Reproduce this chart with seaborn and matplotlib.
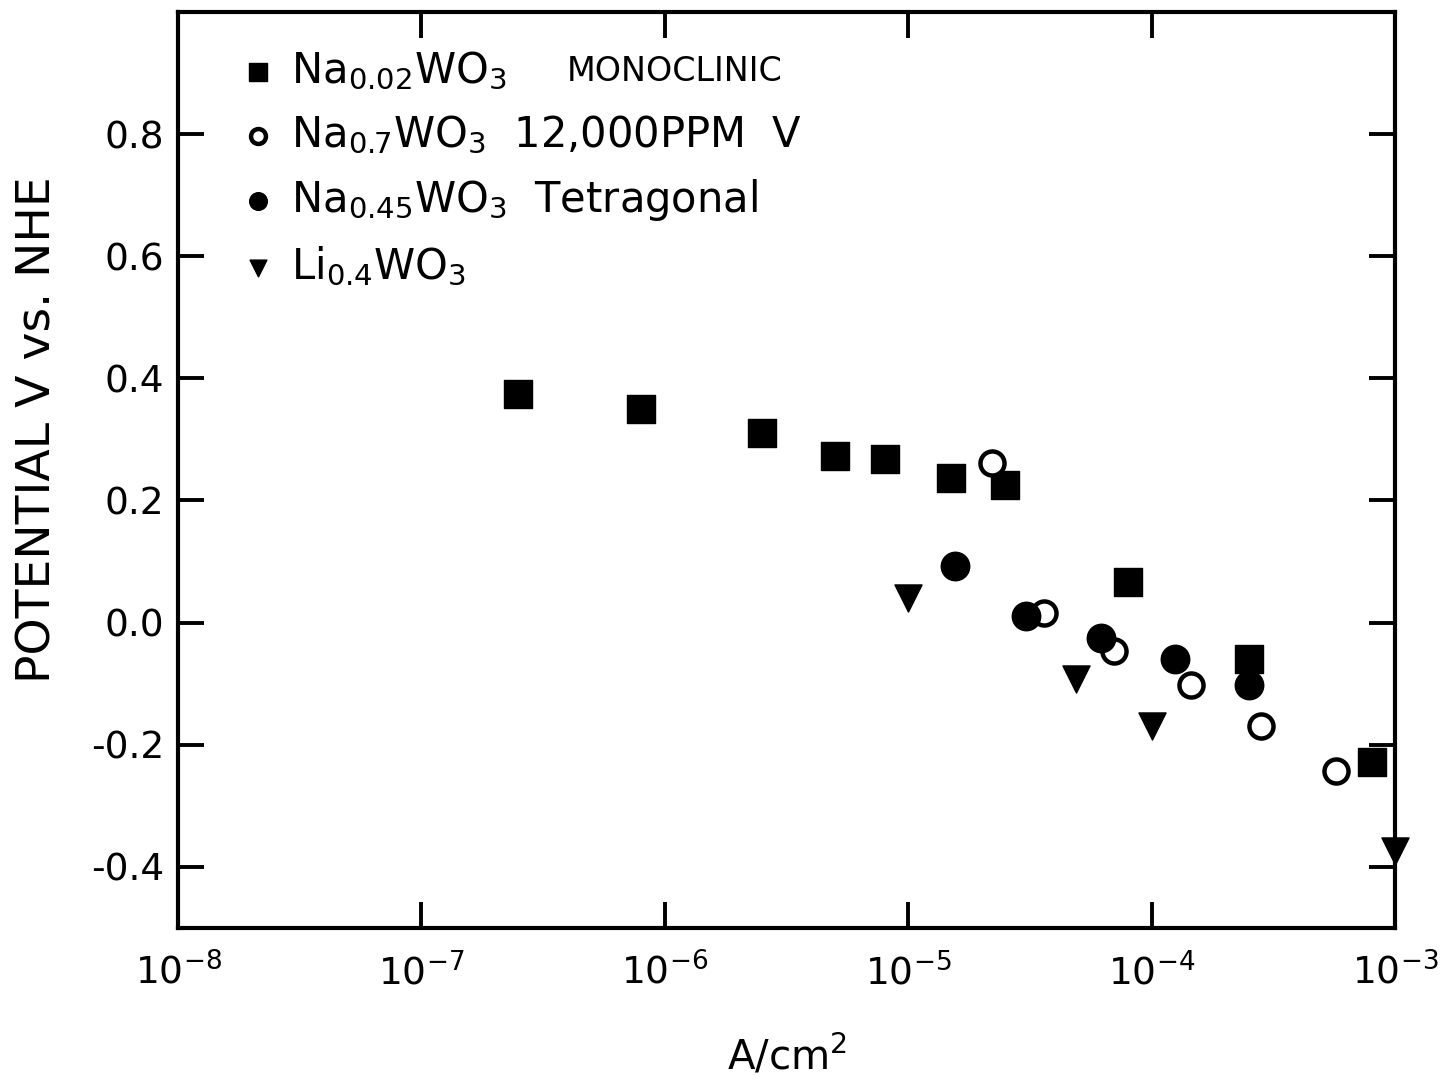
import matplotlib
matplotlib.use("Agg")
import matplotlib.pyplot as plt
import seaborn as sns

sns.set_style("white")
plt.rcParams["font.family"] = ["DejaVu Sans"]
plt.rcParams["mathtext.fontset"] = "dejavusans"
plt.rcParams["text.color"] = "black"
plt.rcParams["axes.labelcolor"] = "black"
plt.rcParams["xtick.color"] = "black"
plt.rcParams["ytick.color"] = "black"

# Current density (A/cm^2) and potential (V vs. NHE) for each electrode
na002_x = [2.5e-7, 8e-7, 2.5e-6, 5e-6, 8e-6, 1.5e-5, 2.5e-5, 8e-5, 2.5e-4, 8e-4]
na002_y = [0.375, 0.350, 0.310, 0.272, 0.268, 0.236, 0.226, 0.067, -0.059, -0.229]

na07_x = [2.2e-5, 3.6e-5, 7.0e-5, 1.45e-4, 2.8e-4, 5.7e-4]
na07_y = [0.261, 0.015, -0.046, -0.103, -0.169, -0.243]

na045_x = [1.55e-5, 3.05e-5, 6.2e-5, 1.25e-4, 2.5e-4]
na045_y = [0.093, 0.011, -0.025, -0.059, -0.102]

li04_x = [1e-5, 4.9e-5, 1e-4, 1e-3]
li04_y = [0.040, -0.092, -0.169, -0.374]

labels = [
    r"Na$_{0.02}$WO$_3$",
    r"Na$_{0.7}$WO$_3$  12,000PPM  V",
    r"Na$_{0.45}$WO$_3$  Tetragonal",
    r"Li$_{0.4}$WO$_3$",
]
extra_note = "MONOCLINIC"

x_ticks = [1e-8, 1e-7, 1e-6, 1e-5, 1e-4, 1e-3]
x_ticklabels = [r"$\mathregular{10^{-8}}$", r"$\mathregular{10^{-7}}$",
                r"$\mathregular{10^{-6}}$", r"$\mathregular{10^{-5}}$",
                r"$\mathregular{10^{-4}}$", r"$\mathregular{10^{-3}}$"]
y_ticks = [0.8, 0.6, 0.4, 0.2, 0.0, -0.2, -0.4]
y_ticklabels = ["0.8", "0.6", "0.4", "0.2", "0.0", "-0.2", "-0.4"]

fig = plt.figure(figsize=(14.56, 10.84), dpi=100)
ax = fig.add_axes([0.1223, 0.144, 0.8359, 0.845])

ink = "black"
sns.scatterplot(x=na002_x, y=na002_y, ax=ax, marker="s", s=400, color=ink,
                edgecolor=ink, linewidth=1, label=labels[0], clip_on=False, zorder=3)
sns.scatterplot(x=na07_x, y=na07_y, ax=ax, marker="o", s=300, color="white",
                edgecolor=ink, linewidth=3.2, label=labels[1], clip_on=False, zorder=3)
sns.scatterplot(x=na045_x, y=na045_y, ax=ax, marker="o", s=420, color=ink,
                edgecolor=ink, linewidth=1, label=labels[2], clip_on=False, zorder=3)
sns.scatterplot(x=li04_x, y=li04_y, ax=ax, marker="v", s=380, color=ink,
                edgecolor=ink, linewidth=1, label=labels[3], clip_on=False, zorder=4)

ax.set_xscale("log")
ax.set_xlim(1e-8, 1e-3)
ax.set_ylim(-0.5, 1.0)
ax.minorticks_off()

ax.set_xticks(x_ticks)
ax.set_xticklabels(x_ticklabels)
ax.set_yticks(y_ticks)
ax.set_yticklabels(y_ticklabels)

ax.tick_params(axis="both", which="major", direction="in", length=19, width=2.8,
               color=ink, labelcolor=ink, labelsize=27, top=True, right=True,
               bottom=True, left=True)
ax.tick_params(axis="x", pad=18)
ax.tick_params(axis="y", pad=10)

for sp in ax.spines.values():
    sp.set_linewidth(3)
    sp.set_color(ink)

ax.set_ylabel("POTENTIAL V vs. NHE", fontsize=34)
ax.yaxis.set_label_coords(-0.097, 0.544)
ax.set_xlabel(r"A/cm$^2$", fontsize=29)
ax.xaxis.set_label_coords(0.5, -0.116)
ax.xaxis.label.set_va("top")

leg = ax.legend(loc="upper left", bbox_to_anchor=(0.035, 0.977), frameon=False,
                fontsize=30, markerscale=0.62, handletextpad=0.3,
                labelspacing=0.52, borderaxespad=0.0, handlelength=1.0)
for t in leg.get_texts():
    t.set_color(ink)

# Crystal-structure note set in smaller capitals after the first entry
fig.canvas.draw()
W, H = fig.canvas.get_width_height()
first = leg.get_texts()[0]
bb = first.get_window_extent()
fig.text((bb.x1 + 60) / W, (bb.y0 + 0.40 * bb.height - 6) / H, extra_note,
         fontsize=24, color=ink, ha="left", va="baseline")

fig.savefig("out.png", dpi=100, facecolor="white")
